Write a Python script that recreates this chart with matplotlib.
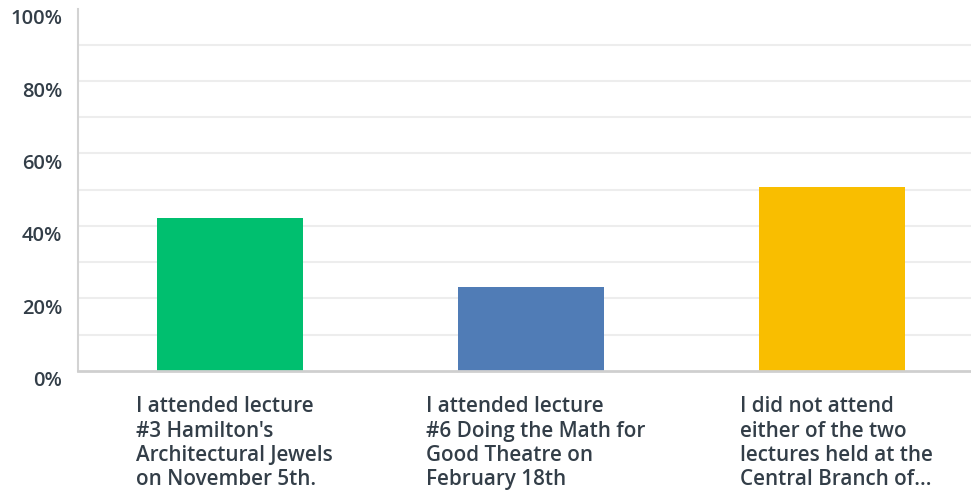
import matplotlib
matplotlib.use("Agg")
import matplotlib.pyplot as plt
from matplotlib import transforms

categories = [
    "I attended lecture\n#3 Hamilton's\nArchitectural Jewels\non November 5th.",
    "I attended lecture\n#6 Doing the Math for\nGood Theatre on\nFebruary 18th",
    "I did not attend\neither of the two\nlectures held at the\nCentral Branch of...",
]
values = [42.2, 23.1, 50.7]
colors = ["#00bf6f", "#507cb6", "#f9be00"]
yticks = [0, 20, 40, 60, 80, 100]
ytick_labels = ["0%", "20%", "40%", "60%", "80%", "100%"]

plt.rcParams['font.family'] = ['Open Sans', 'DejaVu Sans']
text_color = "#333e48"

fig = plt.figure(figsize=(9.71, 4.91), dpi=100)
W, H = 971, 491
left, right = 78, 971
bottom, top = 491 - 370.7, 491 - 8.7
ax = fig.add_axes([left / W, bottom / H, (right - left) / W, (top - bottom) / H])

x = list(range(len(categories)))
ax.bar(x, values, width=0.485, color=colors, zorder=3)
ax.set_xlim(-0.505, 2.462)
ax.set_ylim(0, 100)

for v in range(10, 100, 10):
    ax.axhline(v, color="#ededed", lw=1.5, zorder=1)

ax.set_yticks(yticks)
ax.set_yticklabels(ytick_labels, fontsize=14.5, color=text_color, fontweight="semibold")
ax.tick_params(axis='y', length=0, pad=11.5)
offset = transforms.ScaledTranslation(0, -8 / 100, fig.dpi_scale_trans)
for lbl in ax.get_yticklabels():
    lbl.set_transform(lbl.get_transform() + offset)

ax.set_xticks(x)
ax.set_xticklabels([])
ax.tick_params(axis='x', length=0)
for xi, cat in zip(x, categories):
    ax.text(xi + 0.015, -7.1, cat, ha='center', va='top', multialignment='left',
            fontsize=14.9, color=text_color, fontweight="semibold", linespacing=1.205,
            transform=ax.transData, clip_on=False)

for s in ["top", "right"]:
    ax.spines[s].set_visible(False)
ax.spines["left"].set_color("#d3d3d3")
ax.spines["left"].set_linewidth(1.5)
ax.spines["bottom"].set_color("#cfcfcf")
ax.spines["bottom"].set_linewidth(2)
ax.spines["bottom"].set_zorder(4)

fig.savefig("out.png", dpi=100)
